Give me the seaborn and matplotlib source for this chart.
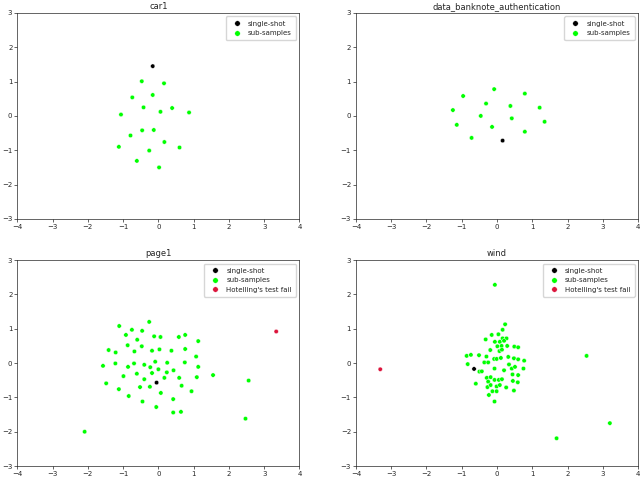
import pandas as pd
import numpy as np
import seaborn as sns
import matplotlib.pyplot as plt

# Point coordinates, one set per dataset
car1_single = [(-0.16, 1.45)]
car1_sub = [(-0.47, 1.01), (0.16, 0.95), (-0.74, 0.54), (-0.16, 0.61), (-0.42, 0.25),
            (0.06, 0.12), (0.39, 0.23), (0.87, 0.10), (-1.06, 0.04), (-0.46, -0.42),
            (-0.13, -0.41), (-0.79, -0.57), (0.17, -0.76), (-1.12, -0.90), (0.60, -0.92),
            (-0.26, -1.01), (-0.61, -1.31), (0.02, -1.50)]
car1_fail = []

bank_single = [(0.16, -0.72)]
bank_sub = [(-0.08, 0.78), (-0.96, 0.58), (0.79, 0.65), (-0.31, 0.36), (0.38, 0.29),
            (-1.25, 0.17), (1.21, 0.24), (-0.46, 0.0), (0.42, -0.07), (-1.14, -0.26),
            (1.35, -0.17), (-0.14, -0.32), (0.79, -0.46), (-0.72, -0.64)]
bank_fail = []

page_single = [(-0.05, -0.57)]
page_sub = [(-0.26, 1.20), (-1.11, 1.08), (-0.75, 0.97), (-0.46, 0.94), (-0.92, 0.82),
            (-0.12, 0.78), (0.06, 0.76), (0.58, 0.76), (0.76, 0.82), (-0.60, 0.68),
            (1.13, 0.64), (-0.87, 0.52), (-0.47, 0.49), (-1.41, 0.38), (-1.21, 0.31),
            (-0.68, 0.34), (-0.18, 0.36), (0.03, 0.40), (0.37, 0.36), (0.76, 0.41),
            (1.07, 0.19), (-1.57, -0.08), (-1.22, -0.01), (-0.86, -0.11), (-0.69, -0.01),
            (-0.40, -0.05), (-0.23, -0.12), (-0.09, 0.04), (0.25, 0.01), (0.75, 0.02),
            (1.13, -0.11), (0.0, -0.18), (-0.18, -0.29), (0.24, -0.27), (0.43, -0.21),
            (-0.99, -0.38), (-0.61, -0.31), (-0.40, -0.47), (0.17, -0.43), (0.59, -0.43),
            (1.09, -0.41), (1.55, -0.35), (-1.48, -0.59), (-0.52, -0.70), (-0.24, -0.69),
            (0.66, -0.66), (-1.12, -0.76), (2.56, -0.51), (-0.84, -0.96), (0.07, -0.87),
            (0.94, -0.82), (0.42, -1.05), (-0.45, -1.12), (-0.06, -1.28), (0.42, -1.44),
            (0.64, -1.42), (2.47, -1.62), (-2.09, -2.00)]
page_fail = [(3.34, 0.92)]

wind_single = [(-0.65, -0.17)]
wind_sub = [(0.23, 1.13), (0.16, 0.97), (-0.15, 0.82), (0.04, 0.84), (-0.32, 0.69),
            (0.16, 0.72), (0.27, 0.72), (-0.06, 0.62), (0.08, 0.62), (0.20, 0.65),
            (0.13, 0.50), (0.01, 0.49), (0.29, 0.50), (0.49, 0.48), (0.60, 0.46),
            (-0.19, 0.38), (0.07, 0.35), (0.14, 0.39), (-0.86, 0.21), (-0.74, 0.24),
            (-0.51, 0.23), (-0.30, 0.19), (-0.08, 0.12), (-0.01, 0.12), (0.11, 0.15),
            (0.32, 0.18), (0.48, 0.14), (0.60, 0.11), (0.77, 0.07), (-0.83, -0.03),
            (-0.36, 0.02), (-0.25, 0.02), (-0.07, -0.16), (0.20, -0.21), (0.42, -0.16),
            (0.51, -0.11), (0.75, -0.16), (-0.50, -0.25), (-0.43, -0.24), (0.34, -0.04),
            (0.60, -0.35), (0.44, -0.33), (-0.29, -0.43), (-0.18, -0.41), (-0.07, -0.49),
            (0.05, -0.49), (0.14, -0.47), (-0.25, -0.54), (-0.60, -0.60), (0.45, -0.52),
            (0.59, -0.56), (-0.27, -0.70), (-0.18, -0.64), (-0.01, -0.68), (0.08, -0.64),
            (0.26, -0.71), (-0.13, -0.82), (-0.01, -0.82), (0.48, -0.80), (-0.23, -0.93),
            (-0.07, -1.12), (-0.06, 2.28), (2.54, 0.21), (1.69, -2.19), (3.20, -1.75)]
wind_fail = [(-3.31, -0.18)]

titles = ["car1", "data_banknote_authentication", "page1", "wind"]
panels = [(car1_single, car1_sub, car1_fail), (bank_single, bank_sub, bank_fail),
          (page_single, page_sub, page_fail), (wind_single, wind_sub, wind_fail)]

labels = ["single-shot", "sub-samples", "Hotelling's test fail"]
colors = {"single-shot": "black", "sub-samples": "#00ff00", "Hotelling's test fail": "crimson"}

sns.set_theme(style="ticks", rc={"xtick.labelsize": 5, "ytick.labelsize": 5,
                                 "axes.titlesize": 6, "legend.fontsize": 5,
                                 "axes.linewidth": 0.5})

fig, axes = plt.subplots(2, 2, figsize=(6.4, 4.79), dpi=100)
fig.subplots_adjust(left=0.027, right=0.997, top=0.973, bottom=0.027,
                    wspace=0.2, hspace=0.2)

for ax, title, (single, sub, fail) in zip(axes.flat, titles, panels):
    rows = []
    # sub-samples first so the single-shot / fail points sit on top
    for name, pts in [("sub-samples", sub), ("single-shot", single),
                      ("Hotelling's test fail", fail)]:
        for x, y in pts:
            rows.append({"x": x, "y": y, "kind": name})
    df = pd.DataFrame(rows)
    order = [l for l in labels if l in set(df["kind"])]
    sns.scatterplot(data=df, x="x", y="y", hue="kind", hue_order=order,
                    palette=colors, s=10, linewidth=0.3, ax=ax)
    ax.set_xlim(-4, 4)
    ax.set_ylim(-3, 3)
    ax.set_xticks(range(-4, 5))
    ax.set_yticks(range(-3, 4))
    ax.set_xlabel("")
    ax.set_ylabel("")
    ax.set_title(title, pad=3)
    ax.tick_params(length=2, width=0.5, pad=1.5)
    ax.legend(loc="upper right", title=None, borderpad=0.6, handletextpad=0.6,
              markerscale=1.25)

fig.savefig("out.png", dpi=100)
